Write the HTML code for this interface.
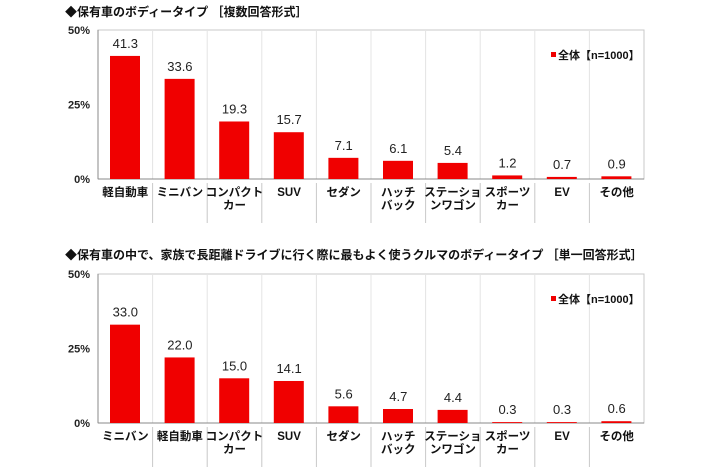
<!DOCTYPE html>
<html><head><meta charset="utf-8"><style>
html,body{margin:0;padding:0;background:#fff;width:710px;height:474px;overflow:hidden}
svg{display:block}
text{font-family:"Liberation Sans","Noto Sans CJK JP",sans-serif}
</style></head><body>
<svg width="710" height="474" viewBox="0 0 710 474" xmlns="http://www.w3.org/2000/svg">
</svg>
<script>
const svg=document.querySelector('svg');
const NS='http://www.w3.org/2000/svg';
function el(t,a,txt){const e=document.createElementNS(NS,t);for(const k in a)e.setAttribute(k,a[k]);if(txt!==undefined)e.textContent=txt;svg.appendChild(e);return e;}
function chart(top,bottom,title,titleY,cats,vals,legY){
  const L=98,R=644,w=(R-L)/10,h=bottom-top;
  el('text',{x:65,y:titleY,'font-size':'12','font-weight':'bold',fill:'#111'},title);
  el('rect',{x:L,y:top,width:R-L,height:h,fill:'none',stroke:'#c8c8c8','stroke-width':1});
  for(let i=1;i<10;i++){const x=L+i*w;
    el('line',{x1:x,y1:top,x2:x,y2:bottom,stroke:'#e4e4e4','stroke-width':1});
    el('line',{x1:x,y1:bottom+4,x2:x,y2:bottom+44,stroke:'#c8c8c8','stroke-width':1});}
  el('line',{x1:L,y1:top,x2:L,y2:bottom,stroke:'#888','stroke-width':1});
  el('line',{x1:L,y1:bottom,x2:R,y2:bottom,stroke:'#888','stroke-width':1});
  [['50%',top],['25%',top+h/2],['0%',bottom]].forEach(([t,y])=>el('text',{x:90,y:y+4,'font-size':'11','font-weight':'bold','text-anchor':'end',fill:'#222'},t));
  vals.forEach((v,i)=>{const bh=v/50*h,x=L+i*w+12,cx=L+i*w+w/2;
    el('rect',{x:x,y:bottom-bh,width:30,height:bh,fill:'#f00000'});
    el('text',{x:cx,y:bottom-bh-8,'font-size':'13','text-anchor':'middle',fill:'#222'},v.toFixed(1));
    cats[i].forEach((c,j)=>el('text',{x:cx,y:bottom+17+j*13,'font-size':'11.5','font-weight':'bold','text-anchor':'middle',fill:'#111'},c));
  });
  el('rect',{x:551,y:legY-7,width:5,height:5,fill:'#f00000'});
  el('text',{x:558,y:legY,'font-size':'11','font-weight':'bold',fill:'#111'},'全体【n=1000】');
}
const base=[['コンパクト','カー'],['SUV'],['セダン'],['ハッチ','バック'],['ステーショ','ンワゴン'],['スポーツ','カー'],['EV'],['その他']];
chart(30,179,'◆保有車のボディータイプ ［複数回答形式］',16,[['軽自動車'],['ミニバン']].concat(base),[41.3,33.6,19.3,15.7,7.1,6.1,5.4,1.2,0.7,0.9],59);
chart(274,423,'◆保有車の中で、家族で長距離ドライブに行く際に最もよく使うクルマのボディータイプ ［単一回答形式］',259,[['ミニバン'],['軽自動車']].concat(base),[33.0,22.0,15.0,14.1,5.6,4.7,4.4,0.3,0.3,0.6],303);
</script>
</body></html>
